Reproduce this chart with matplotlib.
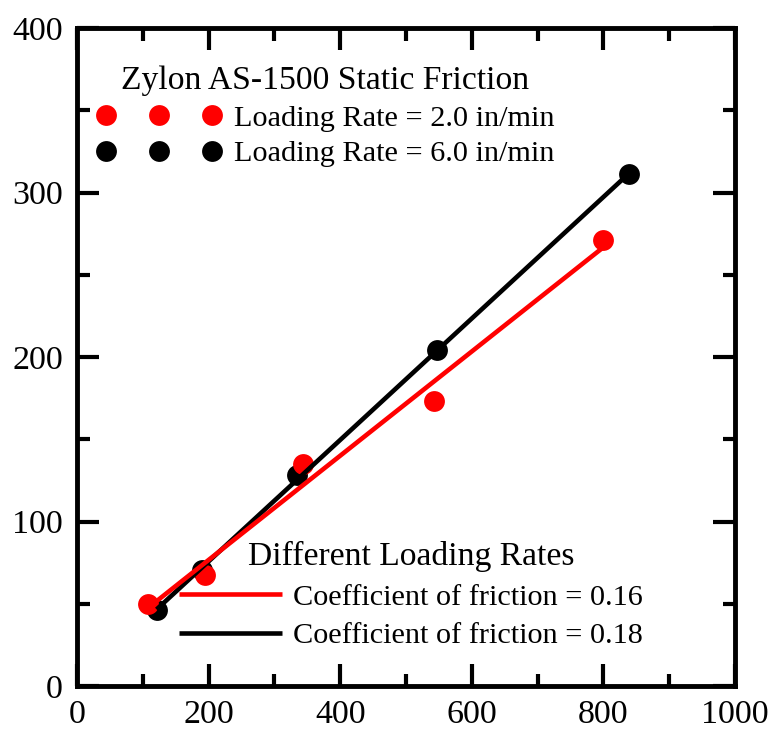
import numpy as np
import matplotlib
matplotlib.use("Agg")
import matplotlib.pyplot as plt
from matplotlib.ticker import MultipleLocator

plt.rcParams['font.family'] = ['Liberation Serif', 'DejaVu Serif']

# Static friction test data: normal load vs. friction force
load_2in = [108, 194.5, 343.5, 542.6, 800]
force_2in = [50, 67.5, 135, 173, 271]
load_6in = [121, 190, 334, 547, 839]
force_6in = [46, 70.5, 128, 204, 311]

rate_labels = ["Loading Rate = 2.0 in/min", "Loading Rate = 6.0 in/min"]
mu_labels = ["Coefficient of friction = 0.16", "Coefficient of friction = 0.18"]
legend_title_1 = "Zylon AS-1500 Static Friction"
legend_title_2 = "Different Loading Rates"

x_ticks = [0, 200, 400, 600, 800, 1000]
y_ticks = [0, 100, 200, 300, 400]

RED = "#ff0000"
BLACK = "#000000"

fig = plt.figure(figsize=(7.72, 7.32), dpi=100)
ax = fig.add_axes([0.0997, 0.0628, 0.8525, 0.8989])

ms = 15
pts6, = ax.plot(load_6in, force_6in, 'o', color=BLACK, ms=ms, mec='none', zorder=3)
pts2, = ax.plot(load_2in, force_2in, 'o', color=RED, ms=ms, mec='none', zorder=4)

# Linear fits through each data set
def fit_line(x, y):
    k, b = np.polyfit(x, y, 1)
    xs = np.array([min(x), max(x)])
    return xs, k * xs + b

xs6, ys6 = fit_line(load_6in, force_6in)
xs2, ys2 = fit_line(load_2in, force_2in)
fit6, = ax.plot(xs6, ys6, '-', color=BLACK, lw=3.3, zorder=5, solid_capstyle='butt')
fit2, = ax.plot(xs2, ys2, '-', color=RED, lw=3.3, zorder=6, solid_capstyle='butt')

ax.set_xlim(0, 1000)
ax.set_ylim(0, 400)
ax.set_xticks(x_ticks)
ax.set_yticks(y_ticks)
ax.xaxis.set_minor_locator(MultipleLocator(100))
ax.yaxis.set_minor_locator(MultipleLocator(50))
ax.tick_params(which='both', direction='in', top=True, right=True, width=3,
               labelsize=24.5, pad=10)
ax.tick_params(which='major', length=16)
ax.tick_params(which='minor', length=9)
for s in ax.spines.values():
    s.set_linewidth(3.5)

leg1 = ax.legend([pts2, pts6], rate_labels, title=legend_title_1,
                 numpoints=3, handlelength=4.1, handletextpad=0.42,
                 frameon=False, fontsize=21.8, title_fontsize=24.2,
                 loc='upper left', bbox_to_anchor=(0.03, 0.943),
                 borderpad=0.0, labelspacing=0.28, borderaxespad=0.0)
ax.add_artist(leg1)

leg2 = ax.legend([fit2, fit6], mu_labels, title=legend_title_2,
                 handlelength=3.4, handletextpad=0.37,
                 frameon=False, fontsize=21.8, title_fontsize=24.2,
                 loc='lower left', bbox_to_anchor=(0.155, 0.056),
                 borderpad=0.0, labelspacing=0.37, borderaxespad=0.0)

fig.savefig("out.png", dpi=100)
